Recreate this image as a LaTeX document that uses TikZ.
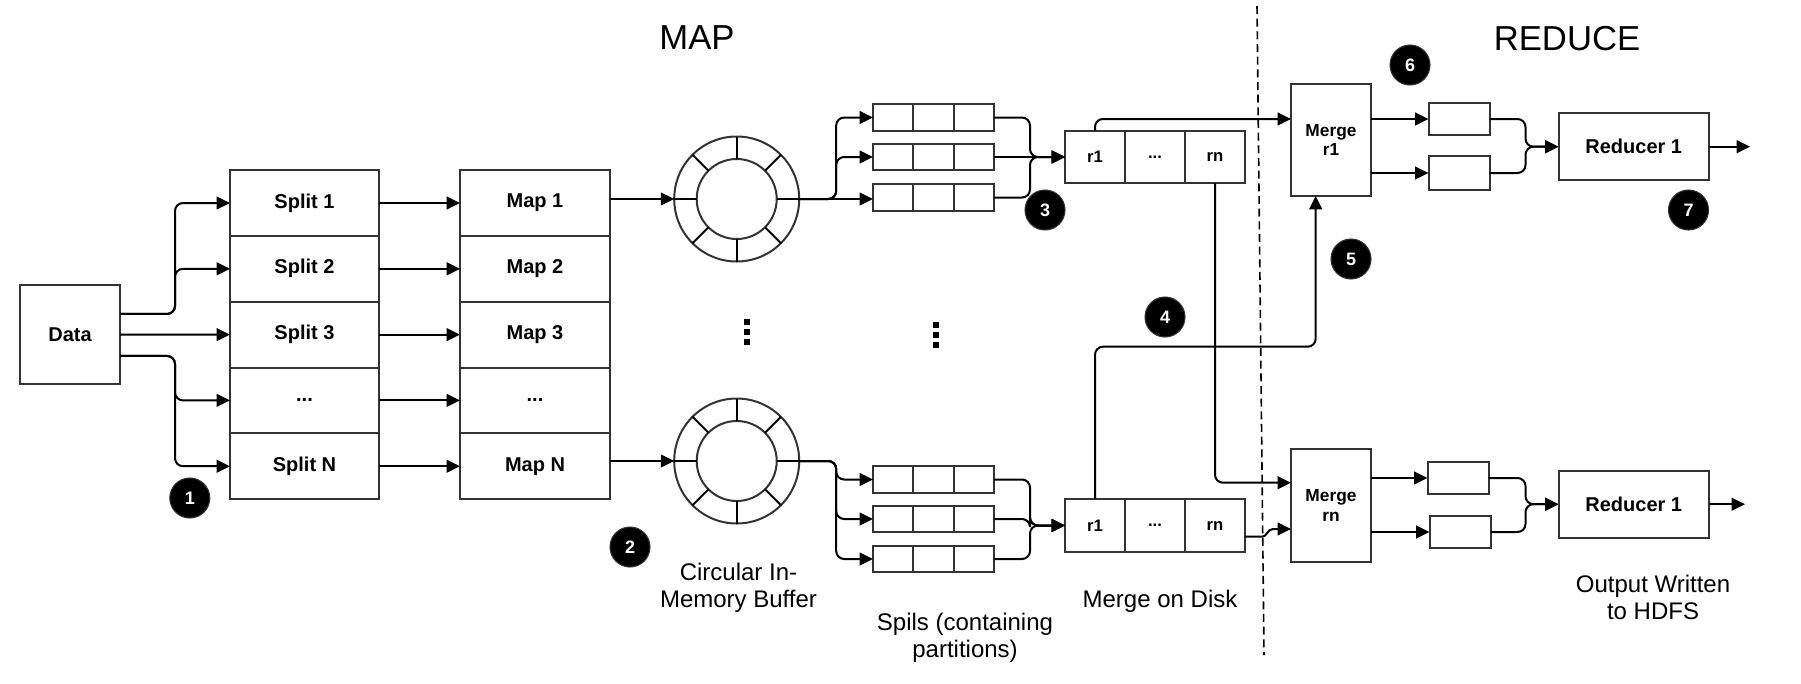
\documentclass[tikz,border=0pt]{standalone}
\usepackage{fontspec}
\setmainfont{Liberation Sans}
\usetikzlibrary{arrows.meta,calc}
\definecolor{bordergray}{HTML}{333333}
\newcommand\mythreedots{...}
\begin{document}
\begin{tikzpicture}[x=0.75pt,y=-0.75pt,
  box/.style={draw=bordergray, line width=1.5pt, fill=white, inner sep=0pt, outer sep=0pt, align=center},
  lab/.style={box, font=\fontsize{15}{18}\selectfont\bfseries},
  mlab/.style={box, font=\fontsize{13}{14.5}\selectfont\bfseries},
  clab/.style={box, font=\fontsize{12.5}{14}\selectfont\bfseries, minimum width=45pt, minimum height=39.5pt},
  spill/.style={box, minimum width=90.75pt, minimum height=20pt},
  sbox/.style={box, minimum width=45.75pt},
  ring/.style={circle, draw=bordergray, line width=1.5pt, inner sep=0pt, outer sep=0pt},
  badge/.style={circle, fill=black, draw=bordergray, line width=0.8pt, text=white, inner sep=0pt, minimum size=30pt, font=\fontsize{13.5}{14}\selectfont\bfseries},
  captxt/.style={align=center, font=\fontsize{18}{20.25}\selectfont},
  ttl/.style={font=\fontsize{26}{30}\selectfont},
  arr/.style={line width=1.5pt, -{Triangle[length=10pt,width=9.5pt]}},
  ln/.style={line width=1.5pt},
  rc/.style={rounded corners=6pt}
]
\useasboundingbox (0,0) rectangle (1801,683);

% titles
\node[ttl] (tmap) at (697,38) {MAP};
\node[ttl] (tred) at (1567,39) {REDUCE};

% dashed separator
\coordinate (dtop) at (1257,6);
\coordinate (dbot) at (1264,655);
\draw[line width=1.2pt, dash pattern=on 6pt off 3.5pt] (dtop) -- (dbot);

% data
\node[lab, minimum width=75pt, minimum height=74.25pt] (data) at (70,334.5) {Data};

% splits and maps
\foreach \i/\y/\t in {1/203/Split 1, 2/268.8/Split 2, 3/334.6/Split 3, 4/400.4/\mythreedots, 5/466.2/Split N}{
  \node[lab, minimum width=111.75pt, minimum height=49.35pt] (split\i) at (304.5,\y) {\t};
}
\foreach \i/\y/\t in {1/203/Map 1, 2/268.8/Map 2, 3/334.6/Map 3, 4/400.4/\mythreedots, 5/466.2/Map N}{
  \node[lab, minimum width=112.5pt, minimum height=49.35pt] (map\i) at (535,\y) {\t};
}

% data -> splits
\draw[arr, rc] ([yshift=15.4pt]data.east) -- ++(55,0) |- (split1.west);
\draw[arr, rc] ([yshift=15.4pt]data.east) -- ++(55,0) |- (split2.west);
\draw[arr] (data.east) -- (split3.west);
\draw[arr, rc] ([yshift=-16.1pt]data.east) -- ++(55,0) |- (split4.west);
\draw[arr, rc] ([yshift=-16.1pt]data.east) -- ++(55,0) |- (split5.west);

% splits -> maps
\foreach \i in {1,2,3,4,5}{ \draw[arr] (split\i.east) -- (map\i.west); }

% circular buffers
\node[ring, minimum size=93.75pt] (ca) at (736.7,199) {};
\node[ring, minimum size=60pt] (cai) at (736.7,199) {};
\node[ring, minimum size=93.75pt] (cb) at (736.7,461) {};
\node[ring, minimum size=60pt] (cbi) at (736.7,461) {};
\foreach \cc in {ca,cb}{
  \foreach \a in {0,45,90,135,180,225,270,315}{ \draw[ln] (\cc.\a) -- (\cc i.\a); }
}
\draw[arr] (map1.east |- ca.west) -- (ca.west);
\draw[arr] (map5.east |- cb.west) -- (cb.west);

% vertical dots
\foreach \x/\y in {747/322, 747/332, 747/342, 936/325, 936/335, 936/345}{
  \fill (\x,\y) +(-2.7,-2.7) rectangle +(2.7,2.7);
}

% spills
\node[spill] (sp11) at (933.5,117.5) {};
\node[spill] (sp12) at (933.5,157) {};
\node[spill] (sp13) at (933.5,197.5) {};
\node[spill] (sp21) at (933.5,479.5) {};
\node[spill] (sp22) at (933.5,519) {};
\node[spill] (sp23) at (933.5,559) {};
\foreach \s in {sp11,sp12,sp13,sp21,sp22,sp23}{
  \draw[ln, draw=bordergray] ($(\s.north west)!1/3!(\s.north east)$) -- ($(\s.south west)!1/3!(\s.south east)$);
  \draw[ln, draw=bordergray] ($(\s.north west)!2/3!(\s.north east)$) -- ($(\s.south west)!2/3!(\s.south east)$);
}

% buffer -> spills
\draw[arr, rc] (ca.east) -- ++(37,0) |- (sp11.west);
\draw[arr, rc] (ca.east) -- ++(37,0) |- (sp12.west);
\draw[arr] (ca.east) -- (ca.east -| sp13.west);
\draw[arr, rc] (cb.east) -- ++(37,0) |- (sp21.west);
\draw[arr, rc] (cb.east) -- ++(37,0) |- (sp22.west);
\draw[arr, rc] (cb.east) -- ++(37,0) |- (sp23.west);

% merge on disk
\node[clab] (md1a) at (1095,157) {r1};
\node[clab] (md1b) at (1155,157) {...};
\node[clab] (md1c) at (1215,157) {rn};
\node[clab] (md2a) at (1095,525.5) {r1};
\node[clab] (md2b) at (1155,525.5) {...};
\node[clab] (md2c) at (1215,525.5) {rn};

% spills -> merge on disk
\draw[arr, rc] (sp11.east) -- ++(36,0) |- (md1a.west);
\draw[arr] (sp12.east) -- (md1a.west);
\draw[arr, rc] (sp13.east) -- ++(36,0) |- (md1a.west);
\draw[arr, rc] (sp21.east) -- ++(36,0) |- (md2a.west);
\draw[arr, rc] (sp22.east) -- ++(36,0) |- (md2a.west);
\draw[arr, rc] (sp23.east) -- ++(36,0) |- (md2a.west);

% merge nodes (reduce side)
\node[mlab, minimum width=60pt, minimum height=84pt] (mr1) at (1331,140) {Merge\\r1};
\node[mlab, minimum width=60pt, minimum height=84.75pt] (mrn) at (1331,505.5) {Merge\\rn};

% small boxes
\node[sbox, minimum height=24pt] (sb1a) at (1459,119) {};
\node[sbox, minimum height=25.5pt] (sb1b) at (1459,173) {};
\node[sbox, minimum height=24pt] (sb2a) at (1458,478) {};
\node[sbox, minimum height=24pt] (sb2b) at (1460,532) {};

% reducers
\node[lab, minimum width=112.9pt, minimum height=50pt] (red1) at (1633.75,146.7) {Reducer 1};
\node[lab, minimum width=112.9pt, minimum height=50pt] (red2) at (1633.75,504.2) {Reducer 1};

% shuffle connectors
\coordinate (j4) at (1315.7,346.7);
\draw[arr, rc] (md1a.north) |- (mr1.west |- sb1a.west);
\draw[arr, rc] (md1c.south) |- ([yshift=17.1pt]mrn.west);
\draw[arr, rc] (md2a.north) |- (j4) -- ([xshift=-11.5pt]mr1.south);
\draw[arr] ([yshift=-8.4pt]md2c.east) -- ++(16,0) .. controls +(7,0) and +(-6,0) .. ++(12,-7.7) -- ([yshift=-17.6pt]mrn.west);

% merge -> small boxes
\draw[arr] (mr1.east |- sb1a.west) -- (sb1a.west);
\draw[arr] (mr1.east |- sb1b.west) -- (sb1b.west);
\draw[arr] (mrn.east |- sb2a.west) -- (sb2a.west);
\draw[arr] (mrn.east |- sb2b.west) -- (sb2b.west);

% small boxes -> reducers
\draw[arr, rc] (sb1a.east) -- ++(36,0) |- (red1.west);
\draw[arr, rc] (sb1b.east) -- ++(36,0) |- (red1.west);
\draw[arr, rc] (sb2a.east) -- ++(37,0) |- (red2.west);
\draw[arr, rc] (sb2b.east) -- ++(35,0) |- (red2.west);

% outputs
\coordinate (out1) at (1750,146.7);
\coordinate (out2) at (1745,504.2);
\draw[arr] (red1.east) -- (out1);
\draw[arr] (red2.east) -- (out2);

% badges
\node[badge] (b1) at (189.8,498) {1};
\node[badge] (b2) at (630,547) {2};
\node[badge] (b3) at (1045,210) {3};
\node[badge] (b4) at (1165,317) {4};
\node[badge] (b5) at (1351,259) {5};
\node[badge] (b6) at (1410,65) {6};
\node[badge] (b7) at (1688.5,210) {7};

% captions
\node[captxt] (capbuf) at (738.5,587.5) {Circular In-\\Memory Buffer};
\node[captxt] (capspill) at (965,638) {Spils (containing\\partitions)};
\node[captxt] (capdisk) at (1160,601) {Merge on Disk};
\node[captxt] (capout) at (1653,597.5) {Output Written\\to HDFS};
\end{tikzpicture}
\end{document}
